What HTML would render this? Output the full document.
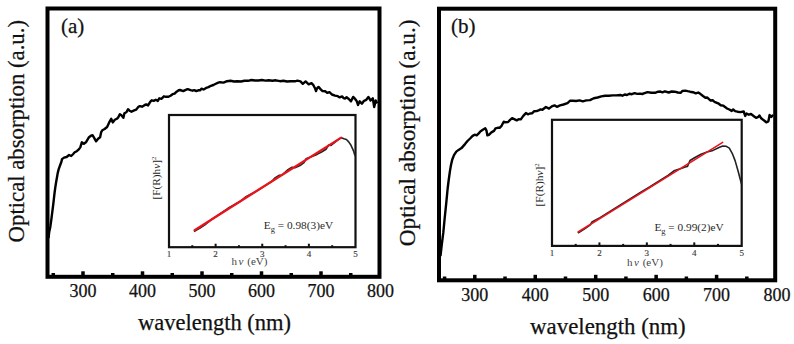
<!DOCTYPE html>
<html><head><meta charset="utf-8"><style>
html,body{margin:0;padding:0;background:#fff;}
svg{display:block;}
text{font-family:"Liberation Serif", serif;}
</style></head><body>
<svg width="794" height="344" viewBox="0 0 794 344">
<rect width="794" height="344" fill="#fff"/>
<path d="M48.5,238 L49.2,232.1 L50.3,226.9 L51.3,219.9 L52.4,211.2 L53.3,204 L53.9,198.6 L54.6,192.5 L55.3,187.4 L56.1,182.3 L57,177.2 L57.7,173.1 L58.7,169.1 L60.2,165 L61.5,161.5 L62,159.1 L64,157.6 L66.6,157 L69.1,155 L71.2,156 L73.2,154 L74.7,152.3 L76.8,151.2 L78.8,149.4 L80.3,147.4 L81.8,142.3 L83.9,143.8 L85.9,142.3 L87.4,139.8 L89,137.2 L91,135.7 L92.5,135.2 L94,137.7 L96.1,141.3 L98.1,138.7 L100.1,137.2 L101.2,132.1 L102.3,130.3 L104.6,129 L107.1,127 L109.2,122.4 L111.2,118.8 L112.7,122.4 L114.8,119.8 L116.8,118.8 L118.3,117.3 L119.8,114.2 L121.4,115.3 L123.4,117.8 L124.4,113.2 L126.4,112.2 L128,109.2 L129.5,110.7 L131.5,111.7 L133.6,110.7 L136.1,109.7 L138.7,106.6 L140,106.1 L142,106.7 L144.1,105.4 L146.1,104.4 L148.1,105.4 L150.2,101.9 L151.7,100.3 L153.7,100.9 L155.8,99.8 L157.8,100.9 L159.3,98.3 L161.4,98.8 L163.9,96.3 L165.9,96.8 L168.5,96.8 L170.5,95.8 L172.6,94.2 L174.6,93.7 L176.6,91.7 L178.7,90.2 L180,90 L183.3,91.1 L185.7,89.9 L187.7,89.1 L190.6,90.1 L192.6,90.7 L194.3,90.1 L196.3,91.1 L198.3,90.3 L200,90.3 L201.6,88.7 L203.6,89.5 L206.1,87.9 L208.5,87.1 L210.9,85.8 L213.4,85 L215.8,83.8 L218.3,82.6 L220,82.2 L223.5,82.6 L227,81.2 L230.5,80.8 L234,81.5 L237.4,81.2 L241,81.5 L244.4,80.8 L248,80.8 L251.4,80 L254.9,80.5 L258.4,80.5 L261.9,80 L265.4,80.6 L268.8,80.3 L272.3,80.8 L275.8,80.3 L280,81.2 L283.5,80.8 L287,81.5 L290.5,81.2 L295,81.3 L297.4,80.7 L300.5,81.4 L302.8,83.8 L305.6,81.4 L308.7,84.3 L311.5,83.2 L313.4,85.2 L315,88.2 L316,91.1 L317,88.3 L318.5,86.9 L320.5,89.1 L322.5,91.1 L325.2,91.3 L327.2,92.9 L329.5,92.1 L331.9,94.5 L335,95.6 L337.8,96.2 L339.7,97.4 L342.1,96.4 L343.7,98.2 L345,98.5 L346.6,97.3 L348.8,99 L351,101.3 L353.2,96.9 L354.6,98.3 L356.8,101.3 L358,104.9 L359.7,101.3 L361.9,103.7 L364,100.8 L366.3,99.8 L368.4,96.9 L370.6,100.5 L372.8,98.3 L374.2,107 L375.7,100.5 L377.2,103.4" fill="none" stroke="#000" stroke-width="2.4" stroke-linejoin="round"/>
<rect x="47.5" y="8.5" width="332.0" height="268.3" fill="none" stroke="#000" stroke-width="4"/>
<rect x="51.50" y="273.00" width="3.5" height="2.8" fill="#000"/>
<rect x="81.25" y="271.30" width="3.5" height="4.5" fill="#000"/>
<rect x="111.00" y="273.00" width="3.5" height="2.8" fill="#000"/>
<rect x="140.75" y="271.30" width="3.5" height="4.5" fill="#000"/>
<rect x="170.50" y="273.00" width="3.5" height="2.8" fill="#000"/>
<rect x="200.25" y="271.30" width="3.5" height="4.5" fill="#000"/>
<rect x="230.00" y="273.00" width="3.5" height="2.8" fill="#000"/>
<rect x="259.75" y="271.30" width="3.5" height="4.5" fill="#000"/>
<rect x="289.50" y="273.00" width="3.5" height="2.8" fill="#000"/>
<rect x="319.25" y="271.30" width="3.5" height="4.5" fill="#000"/>
<rect x="349.00" y="273.00" width="3.5" height="2.8" fill="#000"/>
<text x="83.00" y="296.6" font-size="18" text-anchor="middle" fill="#111" stroke="#111" stroke-width="0.25">300</text>
<text x="142.50" y="296.6" font-size="18" text-anchor="middle" fill="#111" stroke="#111" stroke-width="0.25">400</text>
<text x="202.00" y="296.6" font-size="18" text-anchor="middle" fill="#111" stroke="#111" stroke-width="0.25">500</text>
<text x="261.50" y="296.6" font-size="18" text-anchor="middle" fill="#111" stroke="#111" stroke-width="0.25">600</text>
<text x="321.00" y="296.6" font-size="18" text-anchor="middle" fill="#111" stroke="#111" stroke-width="0.25">700</text>
<text x="380.50" y="296.6" font-size="18" text-anchor="middle" fill="#111" stroke="#111" stroke-width="0.25">800</text>
<text x="138" y="329.5" font-size="22.5" fill="#111" stroke="#111" stroke-width="0.25">wavelength (nm)</text>
<text transform="translate(23.8,242.4) rotate(-90)" font-size="22.75" fill="#111" stroke="#111" stroke-width="0.25">Optical absorption (a.u.)</text>
<text x="61" y="33" font-size="21" fill="#111" stroke="#111" stroke-width="0.25">(a)</text>
<rect x="169" y="115" width="186.5" height="132.2" fill="#fff" stroke="#111" stroke-width="2.2"/>
<rect x="191.31" y="245.20" width="2" height="2.0" fill="#111"/>
<rect x="214.62" y="243.70" width="2" height="3.5" fill="#111"/>
<rect x="237.94" y="245.20" width="2" height="2.0" fill="#111"/>
<rect x="261.25" y="243.70" width="2" height="3.5" fill="#111"/>
<rect x="284.56" y="245.20" width="2" height="2.0" fill="#111"/>
<rect x="307.88" y="243.70" width="2" height="3.5" fill="#111"/>
<rect x="331.19" y="245.20" width="2" height="2.0" fill="#111"/>
<text x="169.00" y="257" font-size="9" text-anchor="middle" fill="#3a3a3a" stroke="#3a3a3a" stroke-width="0.15">1</text>
<text x="215.62" y="257" font-size="9" text-anchor="middle" fill="#3a3a3a" stroke="#3a3a3a" stroke-width="0.15">2</text>
<text x="262.25" y="257" font-size="9" text-anchor="middle" fill="#3a3a3a" stroke="#3a3a3a" stroke-width="0.15">3</text>
<text x="308.88" y="257" font-size="9" text-anchor="middle" fill="#3a3a3a" stroke="#3a3a3a" stroke-width="0.15">4</text>
<text x="355.50" y="257" font-size="9" text-anchor="middle" fill="#3a3a3a" stroke="#3a3a3a" stroke-width="0.15">5</text>
<path d="M194,231.6 L200,228.0 L206,224.0 L212,219.2 L228,208.3 L240,201.5 L246,196.7 L256,191.4 L266,185.1 L272,181.3 L275,177.9 L279,175.4 L282,175.0 L288,169.7 L292,167.2 L295,167.8 L300,165.6 L304,162.6 L306,158.8 L310,157.3 L317,154.4 L322,151.7 L326,149.2 L328.7,145.0 L331,145.5 L336,141.4 L341,137.7 L344,138.8 L346.4,139.5 L348.7,141.9 L351,145.3 L353.4,150.6 L355,155.8" fill="none" stroke="#222" stroke-width="1.6" stroke-linejoin="round"/>
<path d="M194.6,230.2 L341.2,137.6" fill="none" stroke="#e8141c" stroke-width="2.3" stroke-linecap="round"/>
<text x="231.6" y="264.5" font-size="11" fill="#444">h<tspan font-style="italic" dx="1.5">ν</tspan><tspan dx="1"> (eV)</tspan></text>
<text transform="translate(159.5,199.5) rotate(-90)" font-size="11.3" fill="#222">[F(R)h<tspan font-style="italic">ν</tspan>]<tspan font-size="6.8" dy="-4">2</tspan></text>
<text x="263.8" y="228.7" font-size="11.3" fill="#2a2a2a">E<tspan font-size="8.5" dy="3">g</tspan><tspan dy="-3"> = 0.98(3)eV</tspan></text>
<path d="M440.5,256 L441.8,244.3 L443.3,232.7 L444.7,218 L446.2,203.6 L447.6,189 L448.7,180 L449.9,171.4 L451,165 L452.2,159.8 L454,155.1 L456.3,151.6 L458.6,149.9 L461.5,148.1 L465,144.1 L467.5,141 L470.1,138.5 L472.6,135.9 L474.7,134.7 L476.7,135.4 L478.7,133.4 L480.3,131.4 L482.8,129.8 L485.3,128.3 L486.4,130.3 L487.4,135.4 L488.9,134.9 L491.4,132.4 L494,130.9 L495.5,128.3 L497.6,127.8 L499.6,127.8 L501.6,125.8 L503.7,121.7 L505,122.3 L508.1,122 L510.1,119.9 L512.1,118.2 L514.7,119.4 L516.7,120.4 L518.7,119.2 L520.8,119.4 L523.3,115.9 L525.9,113.1 L527.9,114.3 L529.9,113.5 L532,113.3 L534,111.3 L536.5,111.1 L538.6,110.3 L540.6,109.4 L542.4,109.8 L545.9,107 L549,108.6 L551.8,106.4 L554.5,105.4 L556.9,106.8 L560,105.4 L563.5,104.5 L567.5,103.1 L570.2,100.7 L573,100.7 L576.1,101 L579.6,100.4 L582.8,101.3 L586.3,100.4 L590,100.1 L593.8,98.2 L597.6,97.5 L601.3,96.4 L605.1,95.7 L608.9,95.7 L612.7,95.4 L616.4,95.4 L620.2,95 L622.5,95.7 L624.7,94.5 L627,95 L629.3,93.7 L631.9,94.2 L634.6,93.2 L637.2,93.9 L640,93.6 L642.3,94 L644.5,93.2 L647.6,92.1 L651.3,92.7 L655.1,92.8 L658.1,91.7 L660.4,91.5 L662.3,92.3 L664.9,91.3 L668.7,92.5 L671.7,91.5 L674.7,91.7 L677.8,92.5 L680.8,92.8 L682.3,91 L685.3,90.6 L687.6,91.2 L690,91.7 L692.9,92.2 L695.8,93.4 L698.2,92.5 L700.6,94.1 L703,96 L705.4,97.7 L707.3,97.5 L709.2,99.4 L710.6,100.5 L712.6,100.2 L714.5,101.8 L716.9,102.8 L718.8,103.7 L720.7,105.2 L723.1,105.6 L725,106.9 L727,108.5 L729.3,109.5 L731.7,110.9 L733.2,109.5 L735.1,111.1 L737.5,111.7 L740.3,112.1 L743.7,111.5 L745.2,115.9 L746.6,113.5 L748.8,114.7 L751,114 L753.9,116.2 L756.1,117.9 L758.3,116.9 L759.4,115.4 L761.2,118.3 L764.1,120.5 L766.3,122.3 L768.4,121.3 L769.6,115 L771.3,116.9 L772.5,115.4 L773,116.2" fill="none" stroke="#000" stroke-width="2.4" stroke-linejoin="round"/>
<rect x="439" y="8.7" width="336.20000000000005" height="271.6" fill="none" stroke="#000" stroke-width="4"/>
<rect x="442.82" y="276.50" width="3.5" height="2.8" fill="#000"/>
<rect x="473.05" y="274.80" width="3.5" height="4.5" fill="#000"/>
<rect x="503.28" y="276.50" width="3.5" height="2.8" fill="#000"/>
<rect x="533.50" y="274.80" width="3.5" height="4.5" fill="#000"/>
<rect x="563.73" y="276.50" width="3.5" height="2.8" fill="#000"/>
<rect x="593.95" y="274.80" width="3.5" height="4.5" fill="#000"/>
<rect x="624.17" y="276.50" width="3.5" height="2.8" fill="#000"/>
<rect x="654.40" y="274.80" width="3.5" height="4.5" fill="#000"/>
<rect x="684.62" y="276.50" width="3.5" height="2.8" fill="#000"/>
<rect x="714.85" y="274.80" width="3.5" height="4.5" fill="#000"/>
<rect x="745.08" y="276.50" width="3.5" height="2.8" fill="#000"/>
<text x="474.80" y="300.6" font-size="18" text-anchor="middle" fill="#111" stroke="#111" stroke-width="0.25">300</text>
<text x="535.25" y="300.6" font-size="18" text-anchor="middle" fill="#111" stroke="#111" stroke-width="0.25">400</text>
<text x="595.70" y="300.6" font-size="18" text-anchor="middle" fill="#111" stroke="#111" stroke-width="0.25">500</text>
<text x="656.15" y="300.6" font-size="18" text-anchor="middle" fill="#111" stroke="#111" stroke-width="0.25">600</text>
<text x="716.60" y="300.6" font-size="18" text-anchor="middle" fill="#111" stroke="#111" stroke-width="0.25">700</text>
<text x="777.05" y="300.6" font-size="18" text-anchor="middle" fill="#111" stroke="#111" stroke-width="0.25">800</text>
<text x="530" y="334.0" font-size="22.9" fill="#111" stroke="#111" stroke-width="0.25">wavelength (nm)</text>
<text transform="translate(415.3,246.2) rotate(-90)" font-size="23.2" fill="#111" stroke="#111" stroke-width="0.25">Optical absorption (a.u.)</text>
<text x="451" y="33" font-size="21" fill="#111" stroke="#111" stroke-width="0.25">(b)</text>
<rect x="552" y="119.8" width="189.70000000000005" height="126.10000000000001" fill="#fff" stroke="#111" stroke-width="2.2"/>
<rect x="574.71" y="243.90" width="2" height="2.0" fill="#111"/>
<rect x="598.42" y="242.40" width="2" height="3.5" fill="#111"/>
<rect x="622.14" y="243.90" width="2" height="2.0" fill="#111"/>
<rect x="645.85" y="242.40" width="2" height="3.5" fill="#111"/>
<rect x="669.56" y="243.90" width="2" height="2.0" fill="#111"/>
<rect x="693.28" y="242.40" width="2" height="3.5" fill="#111"/>
<rect x="716.99" y="243.90" width="2" height="2.0" fill="#111"/>
<text x="552.00" y="255.5" font-size="9" text-anchor="middle" fill="#3a3a3a" stroke="#3a3a3a" stroke-width="0.15">1</text>
<text x="599.42" y="255.5" font-size="9" text-anchor="middle" fill="#3a3a3a" stroke="#3a3a3a" stroke-width="0.15">2</text>
<text x="646.85" y="255.5" font-size="9" text-anchor="middle" fill="#3a3a3a" stroke="#3a3a3a" stroke-width="0.15">3</text>
<text x="694.28" y="255.5" font-size="9" text-anchor="middle" fill="#3a3a3a" stroke="#3a3a3a" stroke-width="0.15">4</text>
<text x="741.70" y="255.5" font-size="9" text-anchor="middle" fill="#3a3a3a" stroke="#3a3a3a" stroke-width="0.15">5</text>
<path d="M578,233 L585,228.6 L590,225.2 L592,222 L600,217.6 L610,211.5 L620,205.2 L630,198.8 L640,192.6 L650,186.8 L660,180.5 L668,175.5 L674,170.8 L681,168.6 L686,166.7 L687.5,166.5 L690,160.5 L695,157.5 L701,154.3 L707,152.1 L713,150.4 L719,147.5 L722.7,146 L726.4,146.3 L729.3,148.2 L732.2,153.3 L735.1,160.6 L738,170.7 L741.5,184" fill="none" stroke="#222" stroke-width="1.6" stroke-linejoin="round"/>
<path d="M578.1,232 L722.7,142.4" fill="none" stroke="#e8141c" stroke-width="1.6" stroke-linecap="round"/>
<text x="627.0" y="266" font-size="11" fill="#444">h<tspan font-style="italic" dx="1.5">ν</tspan><tspan dx="1"> (eV)</tspan></text>
<text transform="translate(543,206.5) rotate(-90)" font-size="11.4" fill="#222">[F(R)h<tspan font-style="italic">ν</tspan>]<tspan font-size="6.8" dy="-4">2</tspan></text>
<text x="654.4" y="231" font-size="11.3" fill="#2a2a2a">E<tspan font-size="8.5" dy="3">g</tspan><tspan dy="-3"> = 0.99(2)eV</tspan></text>
</svg>
</body></html>
